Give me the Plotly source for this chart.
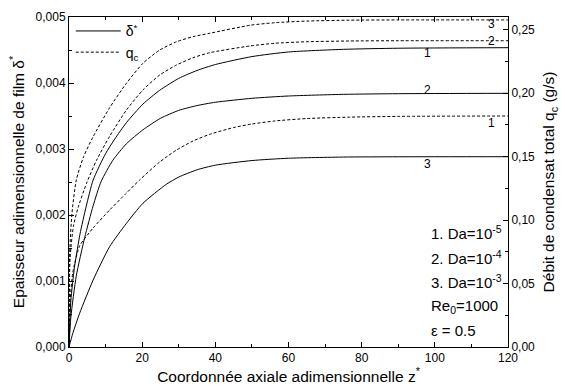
import plotly.graph_objects as go

# ---- data ----
# dimensionless film thickness delta* (left axis)
z_d1 = [0, 0.5, 1.5, 3, 4.7, 6.6, 10, 12.5, 15.7, 20.2, 24.8, 30, 35, 40, 50, 60, 75, 90, 120]
d1 = [0, 0.00070, 0.00121, 0.00171, 0.00213, 0.00253, 0.00293, 0.00315, 0.00340, 0.00368, 0.00389,
      0.00407, 0.00419, 0.00428, 0.00440, 0.00447, 0.00451, 0.004527, 0.004535]
z_d2 = [0, 0.5, 2, 4.3, 6.6, 8.8, 12, 15.7, 20.2, 25, 30, 35, 40, 50, 60, 75, 90, 120]
d2 = [0, 0.00045, 0.00108, 0.00166, 0.00214, 0.00251, 0.00283, 0.00308, 0.00329, 0.003465, 0.003585,
      0.003658, 0.003708, 0.003768, 0.003803, 0.003828, 0.003838, 0.003844]
z_d3 = [0, 1, 2.9, 6.6, 11.1, 15.7, 20.2, 26.6, 30, 35, 40, 50, 60, 75, 90, 120]
d3 = [0, 0.00020, 0.00051, 0.001015, 0.00152, 0.001874, 0.002177, 0.002465, 0.002575, 0.002685,
      0.002755, 0.002825, 0.002860, 0.002878, 0.002882, 0.002883]

# total condensate flow rate q_c in g/s (right axis)
z_q1 = [0, 0.3, 1.0, 2.9, 6.6, 11.1, 15.7, 19.3, 24.8, 29.4, 33.9, 38.5, 45, 50, 56.3, 65, 76.7, 90, 120]
q1 = [0, 0.035, 0.058, 0.0796, 0.0938, 0.1079, 0.1213, 0.1316, 0.1458, 0.1552, 0.1623, 0.1676, 0.1729,
      0.1757, 0.1781, 0.1800, 0.1811, 0.1817, 0.1820]
z_q2 = [0, 0.3, 1.2, 2.5, 4.8, 7.5, 11.1, 15.7, 20.2, 24.8, 29.4, 33.9, 38.5, 49.5, 56.3, 65, 76.7, 90, 120]
q2 = [0, 0.07, 0.095, 0.11, 0.129, 0.147, 0.1660, 0.1867, 0.2025, 0.2143, 0.2222, 0.2279, 0.2319,
      0.2372, 0.2393, 0.2405, 0.2411, 0.2413, 0.2413]
z_q3 = [0, 0.2, 0.8, 2.0, 4.0, 6.6, 11.1, 15.7, 20.2, 24.8, 29.4, 33.9, 38.5, 49.5, 56.3, 65, 76.7, 90, 120]
q3 = [0, 0.075, 0.105, 0.1316, 0.150, 0.1657, 0.1885, 0.2078, 0.2235, 0.2340, 0.2405, 0.2445, 0.2472,
      0.2535, 0.2555, 0.2568, 0.2575, 0.2577, 0.2577]

# curve labels: (text, z, delta-axis value)
curve_labels = [("3", 115.5, 0.00490), ("2", 115.5, 0.00464), ("1", 98.1, 0.00445),
                ("2", 98.1, 0.00390), ("1", 115.5, 0.00339), ("3", 98.1, 0.00277)]

info_lines = ["1. Da=10<sup>-5</sup>", "2. Da=10<sup>-4</sup>", "3. Da=10<sup>-3</sup>",
              "Re<sub>0</sub>=1000", "ε = 0.5"]

FONT = "Liberation Sans, Arial, sans-serif"
DASH = "3px,2px"

fig = go.Figure()
solid_sets = [(z_d1, d1), (z_d2, d2), (z_d3, d3)]
dash_sets = [(z_q1, q1), (z_q2, q2), (z_q3, q3)]
for i, (zz, vv) in enumerate(solid_sets):
    fig.add_trace(go.Scatter(x=zz, y=vv, mode="lines", yaxis="y",
                             line=dict(color="black", width=1, shape="spline", smoothing=0.6),
                             name="δ<sup>*</sup>", legendgroup="d", showlegend=(i == 0)))
for i, (zz, vv) in enumerate(dash_sets):
    fig.add_trace(go.Scatter(x=zz, y=vv, mode="lines", yaxis="y2",
                             line=dict(color="black", width=1, dash=DASH, shape="spline", smoothing=0.6),
                             name="q<sub>c</sub>", legendgroup="q", showlegend=(i == 0)))

for txt, zx, yv in curve_labels:
    fig.add_annotation(x=zx, y=yv, xref="x", yref="y", text=txt, showarrow=False,
                       font=dict(size=12, color="black", family=FONT))

info_y = [0.346, 0.27, 0.197, 0.122, 0.05]
for txt, yy in zip(info_lines, info_y):
    fig.add_annotation(x=0.821, y=yy, xref="paper", yref="paper", text=txt, showarrow=False,
                       xanchor="left", yanchor="middle",
                       font=dict(size=15, color="black", family=FONT))

axis_common = dict(showline=True, linecolor="black", linewidth=1, ticks="inside", tickcolor="black",
                   ticklen=5, showgrid=False, zeroline=False, automargin=False,
                   tickfont=dict(size=12, color="black", family=FONT))

fig.update_layout(
    width=562, height=390,
    margin=dict(l=69, r=54, t=17, b=43),
    paper_bgcolor="white", plot_bgcolor="white",
    separators=",.",
    font=dict(family=FONT, color="black"),
    xaxis=dict(range=[0, 120], dtick=20, tick0=0, mirror="ticks",
               minor=dict(dtick=10, ticks="inside", ticklen=3, tickcolor="black"),
               title=dict(text="Coordonnée axiale adimensionnelle z<sup>*</sup>",
                          font=dict(size=15.5, family=FONT), standoff=5),
               **axis_common),
    yaxis=dict(range=[0, 0.005], dtick=0.001, tick0=0, tickformat=".3f",
               minor=dict(dtick=0.0005, ticks="inside", ticklen=3, tickcolor="black"),
               title=dict(text="Epaisseur adimensionnelle de film δ<sup>*</sup>",
                          font=dict(size=15.5, family=FONT), standoff=7),
               **axis_common),
    yaxis2=dict(range=[0, 0.26], dtick=0.05, tick0=0, tickformat=".2f", overlaying="y", side="right",
                minor=dict(dtick=0.025, ticks="inside", ticklen=3, tickcolor="black"),
                title=dict(text="Débit de condensat total q<sub>c</sub> (g/s)",
                           font=dict(size=15.5, family=FONT), standoff=9),
                **axis_common),
    legend=dict(x=0.004, y=1.005, xanchor="left", yanchor="top", bgcolor="rgba(0,0,0,0)",
                font=dict(size=14, family=FONT, color="black"), tracegroupgap=0,
                itemwidth=45),
    showlegend=True,
)

fig.write_html("out.html", config={"displayModeBar": False},
               post_script="document.body.style.margin='0';")
